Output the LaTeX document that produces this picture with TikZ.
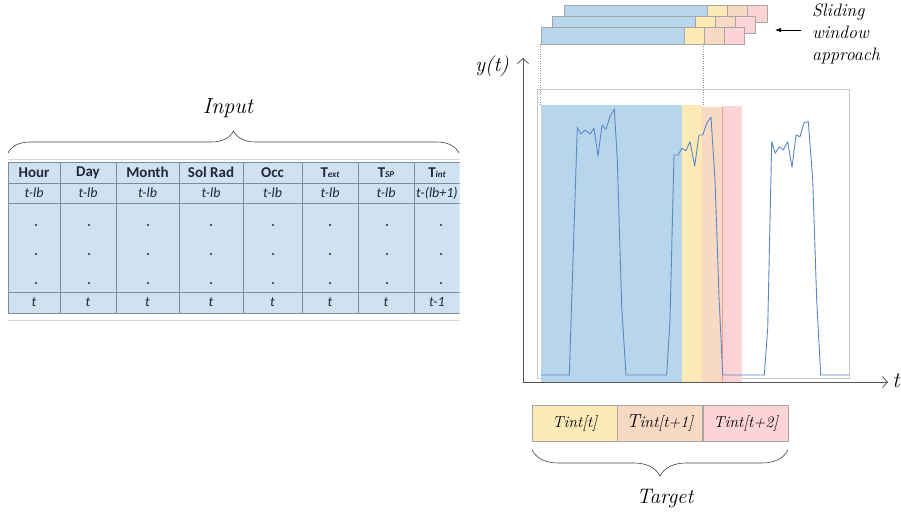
\documentclass[tikz,border=0pt]{standalone}
\usepackage{fontspec}
\newcommand{\serfont}{\rmfamily}
\newfontfamily\calfont{Carlito}
\usetikzlibrary{decorations.pathreplacing,arrows.meta}
\definecolor{tblfill}{HTML}{D0E1F1}
\definecolor{tblline}{HTML}{7D8C9B}
\definecolor{tbltext}{HTML}{1F2937}
\definecolor{wblue}{HTML}{B8D6EB}
\definecolor{wyellow}{HTML}{FDEAB6}
\definecolor{wpeach}{HTML}{F8D9C4}
\definecolor{wpink}{HTML}{FDD4D6}
\definecolor{curvec}{HTML}{5B87C6}
\definecolor{axisc}{HTML}{555555}
\definecolor{boxg}{HTML}{C9C9C9}
\definecolor{cellb}{HTML}{A6A6A6}
\newcommand{\tsub}[1]{\raisebox{-0.5pt}{\fontsize{9}{9}\selectfont\itshape #1}}
\tikzset{
  hdr/.style={font=\calfont\bfseries\fontsize{15}{15}\selectfont, text=tbltext, inner sep=0pt},
  rowtxt/.style={font=\calfont\itshape\fontsize{14}{15}\selectfont, text=tbltext, inner sep=0pt},
  dotc/.style={fill=tbltext, draw=none, circle, inner sep=0pt, minimum size=2.4pt},
  tline/.style={draw=tblline, line width=0.7pt},
  bigital/.style={font=\serfont\itshape\fontsize{22}{24}\selectfont, inner sep=0pt},
  brc/.style={draw=black!75, line width=0.6pt, decorate},
  barcell/.style={draw=cellb, line width=0.5pt},
  tcell/.style={draw=cellb, line width=0.6pt, minimum width=85pt, minimum height=36pt, inner sep=0pt, anchor=north west, font=\serfont\itshape\fontsize{16}{18}\selectfont},
  axis/.style={draw=axisc, line width=0.8pt, -{Straight Barb[length=5pt,width=11pt]}},
  guide/.style={draw=black!45, line width=0.4pt, dotted},
}
\begin{document}
\begin{tikzpicture}[x=1pt,y=-1pt]
\useasboundingbox (0,0) rectangle (901,513);

% ---------------- Input table ----------------
\begin{scope}
\clip (0,150) rectangle (459.5,330);
\fill[tblfill] (8,162) rectangle (470,313);
\draw[black!15, line width=0.6pt] (8,159.5) -- (470,159.5);
\draw[black!15, line width=0.6pt] (8,320) -- (470,320);
\foreach \yy in {162,183,203,292,313} \draw[tline] (8,\yy) -- (470,\yy);
\foreach \xx in {8,60,116,179,243,302,358,414} \draw[tline] (\xx,162) -- (\xx,313);
\foreach \cx/\txt/\nm in {34/Hour/h1, 88/Day/h2, 147.5/Month/h3, 211/Sol Rad/h4, 272.5/Occ/h5, 330/{T\tsub{ext}}/h6, 386/{T\tsub{SP}}/h7, 437/{T\tsub{int}}/h8}
  \node[hdr] (\nm) at (\cx,172.5) {\txt};
\foreach \cx/\nm in {34/r1, 88/r2, 147.5/r3, 211/r4, 272.5/r5, 330/r6, 386/r7}
  \node[rowtxt] (\nm) at (\cx,193) {t-lb};
\node[rowtxt, anchor=west] (r8) at (416,193) {t-(lb+1)};
\foreach \cx/\nm in {34/b1, 88/b2, 147.5/b3, 211/b4, 272.5/b5, 330/b6, 386/b7}
  \node[rowtxt] (\nm) at (\cx,302.5) {t};
\node[rowtxt] (b8) at (437,302.5) {t-1};
\foreach \cx [count=\k] in {36,89,148,211,273,330,387,441}
  \foreach \yy [count=\j] in {225,254,283}
    \node[dotc] (d\k\j) at (\cx,\yy) {};
\end{scope}

\coordinate (inL) at (8,153);
\coordinate (inR) at (459,153);
\draw[brc, decoration={brace, amplitude=22pt}] (inL) -- (inR);
\node[bigital] (input) at (228,108) {Input};

% ---------------- Sliding window bars ----------------
\foreach \bx/\by/\nm in {564/5/w1, 552/16/w2, 541/27/w3}{
  \fill[white] (\bx,\by) rectangle ++(203,17);
  \filldraw[barcell, fill=wblue] (\bx,\by) rectangle ++(143,17);
  \filldraw[barcell, fill=wyellow] (\bx+143,\by) rectangle ++(20,17);
  \filldraw[barcell, fill=wpeach] (\bx+163,\by) rectangle ++(20,17);
  \filldraw[barcell, fill=wpink] (\bx+183,\by) rectangle ++(20,17);
  \coordinate (\nm) at (\bx,\by);
}
\node[font=\serfont\itshape\fontsize{18}{22}\selectfont, align=left, anchor=north west, inner sep=0pt] (sw) at (812,4) {Sliding\\window\\approach};
\coordinate (swstart) at (801,30);
\coordinate (swtip) at (775,30);
\draw[line width=0.7pt, -{Latex[length=6pt,width=4.5pt]}] (swstart) -- (swtip);

% ---------------- Plot ----------------
\draw[boxg, line width=0.6pt] (537,89) rectangle (849,378);
\fill[wblue] (540.5,105) rectangle (682,382);
\fill[wyellow] (682,105) rectangle (702,382);
\fill[wpeach] (702,107) rectangle (722,383);
\fill[wpink] (722,106) rectangle (742,382);
\draw[red!40, line width=0.6pt] (722,107) -- (722,382);
\draw[guide] (540.5,44) -- (540.5,105);
\draw[guide] (703,44) -- (703,105);

\draw[curvec, line width=0.9pt, line join=round]
 (540.7,375) -- (569.3,375) -- (577.3,127.3) -- (581,134) -- (585,130) -- (590,134) -- (594,128.3) -- (598,156) -- (602,125) -- (606,129.3) -- (610,116.7) -- (614.3,109) -- (617.3,160) -- (621.7,306.7) -- (626,375) -- (666.7,375) -- (670,320) -- (674,155) -- (678,155) -- (682,148.3) -- (686,150.7) -- (690,141.7) -- (694.7,166) -- (699,135) -- (702.7,135) -- (706.7,123.3) -- (711,117.3) -- (715,180) -- (719,296.7) -- (722.7,375) -- (764.3,375) -- (767.7,328.3) -- (771.7,141.7) -- (775.3,153.3) -- (779.3,146.7) -- (783.3,150) -- (787.7,141.7) -- (792,167.3) -- (796,135) -- (800,136.7) -- (804,122.7) -- (808.3,121.7) -- (812.7,180) -- (816.7,300) -- (820.7,375) -- (849.3,375);

\coordinate (org) at (523,382);
\coordinate (ytop) at (523,58);
\coordinate (xend) at (888,382);
\draw[axis] (org) -- (ytop);
\draw[axis] (org) -- (xend);
\node[font=\serfont\itshape\fontsize{21}{22}\selectfont, inner sep=0pt] (ylab) at (492,66) {y(t)};
\node[font=\serfont\itshape\fontsize{22}{22}\selectfont, inner sep=0pt] (xlab) at (896,381) {t};

% ---------------- Target ----------------
\node[tcell, fill=wyellow] (c1) at (532,405) {Tint[t]};
\node[tcell, fill=wpeach] (c2) at (617,405) {{\fontsize{19}{18}\selectfont T}int[t+1]};
\node[tcell, fill=wpink] (c3) at (703,405) {Tint[t+2]};
\coordinate (tgL) at (532,450);
\coordinate (tgR) at (788,450);
\draw[brc, decoration={brace, amplitude=26pt, mirror}] (tgL) -- (tgR);
\node[font=\serfont\itshape\fontsize{21}{24}\selectfont, inner sep=0pt] (target) at (665,499) {Target};
\end{tikzpicture}
\end{document}
